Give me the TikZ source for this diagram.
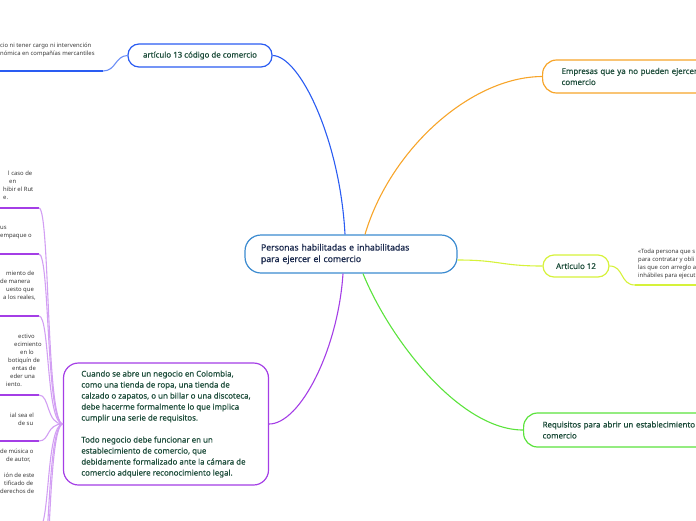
\documentclass[tikz,border=0pt]{standalone}
\usepackage{fontspec}
\setmainfont{Noto Sans}
\newfontfamily\mapfont{Noto Sans}[FakeBold=0.5]
\definecolor{hubblue}{HTML}{3B8BD0}
\definecolor{navytext}{HTML}{1B2A4E}
\definecolor{leafgreen}{HTML}{1E4D3B}
\definecolor{artblue}{HTML}{2A5CF2}
\definecolor{empresaorange}{HTML}{F7A52A}
\definecolor{limeyellow}{HTML}{D6F23A}
\definecolor{reqgreen}{HTML}{5BE33C}
\definecolor{negociopurple}{HTML}{A43EE6}
\definecolor{notegray}{HTML}{3A3A3A}

\begin{document}
\begin{tikzpicture}[
x=1pt, y=-1pt,
hub/.style={rectangle, draw=hubblue, rounded corners=16pt, fill=white, line width=1.2pt, text width=180pt, align=left, inner xsep=16pt, inner ysep=0pt, minimum height=38pt, text=navytext, font=\mapfont\fontsize{8.7}{11.5}\selectfont},
topic/.style={rectangle, draw, rounded corners=11pt, fill=white, line width=1.2pt, text=leafgreen, font=\mapfont\fontsize{7.9}{11}\selectfont},
notes/.style={inner sep=0pt, align=left, text=notegray, font=\fontsize{5.9}{8}\selectfont},
link/.style={line width=1.1pt},
under/.style={line width=2pt}
]
\useasboundingbox (0,0) rectangle (696,520);
\clip (0,0) rectangle (696,520);

\coordinate (art13end) at (103,71);
\coordinate (art13tail) at (0,71);
\coordinate (art12end) at (635,285);
\coordinate (art12tail) at (696,285);

\node (hub) [hub] at (351,254) {Personas habilitadas e inhabilitadas\\para ejercer el comercio};
\node (art13) [topic, draw=artblue, minimum width=144pt, minimum height=23pt] at (200,55.5) {artículo 13 código de comercio};
\node (empresas) [topic, draw=empresaorange, anchor=west, text width=190pt, align=left, inner xsep=19pt, minimum height=33pt, rounded corners=14pt] at (542,76.5) {Empresas que ya no pueden ejercer\\comercio};
\node (art12) [topic, draw=limeyellow, minimum width=66pt, minimum height=22pt] at (576,266) {Articulo 12};
\node (requisitos) [topic, draw=reqgreen, anchor=west, text width=195pt, align=left, inner xsep=19pt, minimum height=34pt, rounded corners=14pt] at (523,430) {Requisitos para abrir un establecimiento\\comercio};
\node (negocio) [topic, draw=negociopurple, align=left, minimum width=205pt, minimum height=122pt, rounded corners=15pt] at (166,424) {Cuando se abre un negocio en Colombia,\\como una tienda de ropa, una tienda de\\calzado o zapatos, o un billar o una discoteca,\\debe hacerme formalmente lo que implica\\cumplir una serie de requisitos.\\[11pt]Todo negocio debe funcionar en un\\establecimiento de comercio, que\\debidamente formalizado ante la cámara de\\comercio adquiere reconocimiento legal.};

\draw [link, artblue] ([xshift=-6pt]hub.north) .. controls (340,140) and (300,56) .. (art13.east);
\draw [link, empresaorange] ([xshift=14pt]hub.north) .. controls (390,150) and (470,77) .. (empresas.west);
\draw [link, limeyellow] ([yshift=-6pt]hub.east) .. controls (500,260) and (500,266) .. (art12.west);
\draw [link, reqgreen] ([xshift=12pt]hub.south) .. controls (390,340) and (460,430) .. (requisitos.west);
\draw [link, negociopurple] ([xshift=-8pt]hub.south) .. controls (338,350) and (300,424) .. (negocio.east);

% artículo 13
\draw [link, artblue!70] (art13.west) .. controls (115,56) and (116,71) .. (art13end);
\draw [under, artblue] (art13end) -- (art13tail);
\node (art13note) [notes, anchor=north west] at (0,43) {cio ni tener cargo ni intervención\\nómica en compañías mercantiles};

% Articulo 12
\draw [link, limeyellow] (art12.east) .. controls (624,266) and (620,285) .. (art12end);
\draw [under, limeyellow] (art12end) -- (art12tail);
\node (art12note) [notes, anchor=north west] at (638,249) {«Toda persona que s\\para contratar y obli\\las que con arreglo a\\inhábiles para ejecut};

% negocio branches
\foreach \y [count=\i] in {208,254,316,395,441,528,590,650} {
  \coordinate (leaf\i) at (39,\y);
  \draw [under, negociopurple] (0,\y) -- (leaf\i);
  \draw [link, negociopurple!50] (leaf\i) .. controls (50,\y) and (46,424) .. (negocio.west);
}
\node (leafnote1) [notes, anchor=north west] at (0,171) {\hspace*{8pt}l caso de\\\hspace*{9pt}en\\\hspace*{3pt}hibir el Rut\\\hspace*{3pt}e.};
\node (leafnote2) [notes, anchor=north west] at (0,226) {us\\empaque o};
\node (leafnote3) [notes, anchor=north west] at (0,271) {\hspace*{6pt}miento de\\de manera\\\hspace*{6pt}uesto que\\\hspace*{3pt}a los reales,};
\node (leafnote4) [notes, anchor=north west] at (0,334) {\hspace*{18pt}ectivo\\\hspace*{14pt}ecimiento\\\hspace*{20pt}en lo\\\hspace*{8pt}botiquín de\\\hspace*{12pt}entas de\\\hspace*{10pt}eder una\\\hspace*{6pt}iento.};
\node (leafnote5) [notes, anchor=north west] at (0,413) {\hspace*{10pt}ial sea el\\\hspace*{18pt}de su};
\node (leafnote6) [notes, anchor=north west] at (0,449) {de música o\\\hspace*{6pt}de autor,\\[8pt]\hspace*{4pt}ión de este\\\hspace*{4pt}tificado de\\derechos de};
\end{tikzpicture}
\end{document}
